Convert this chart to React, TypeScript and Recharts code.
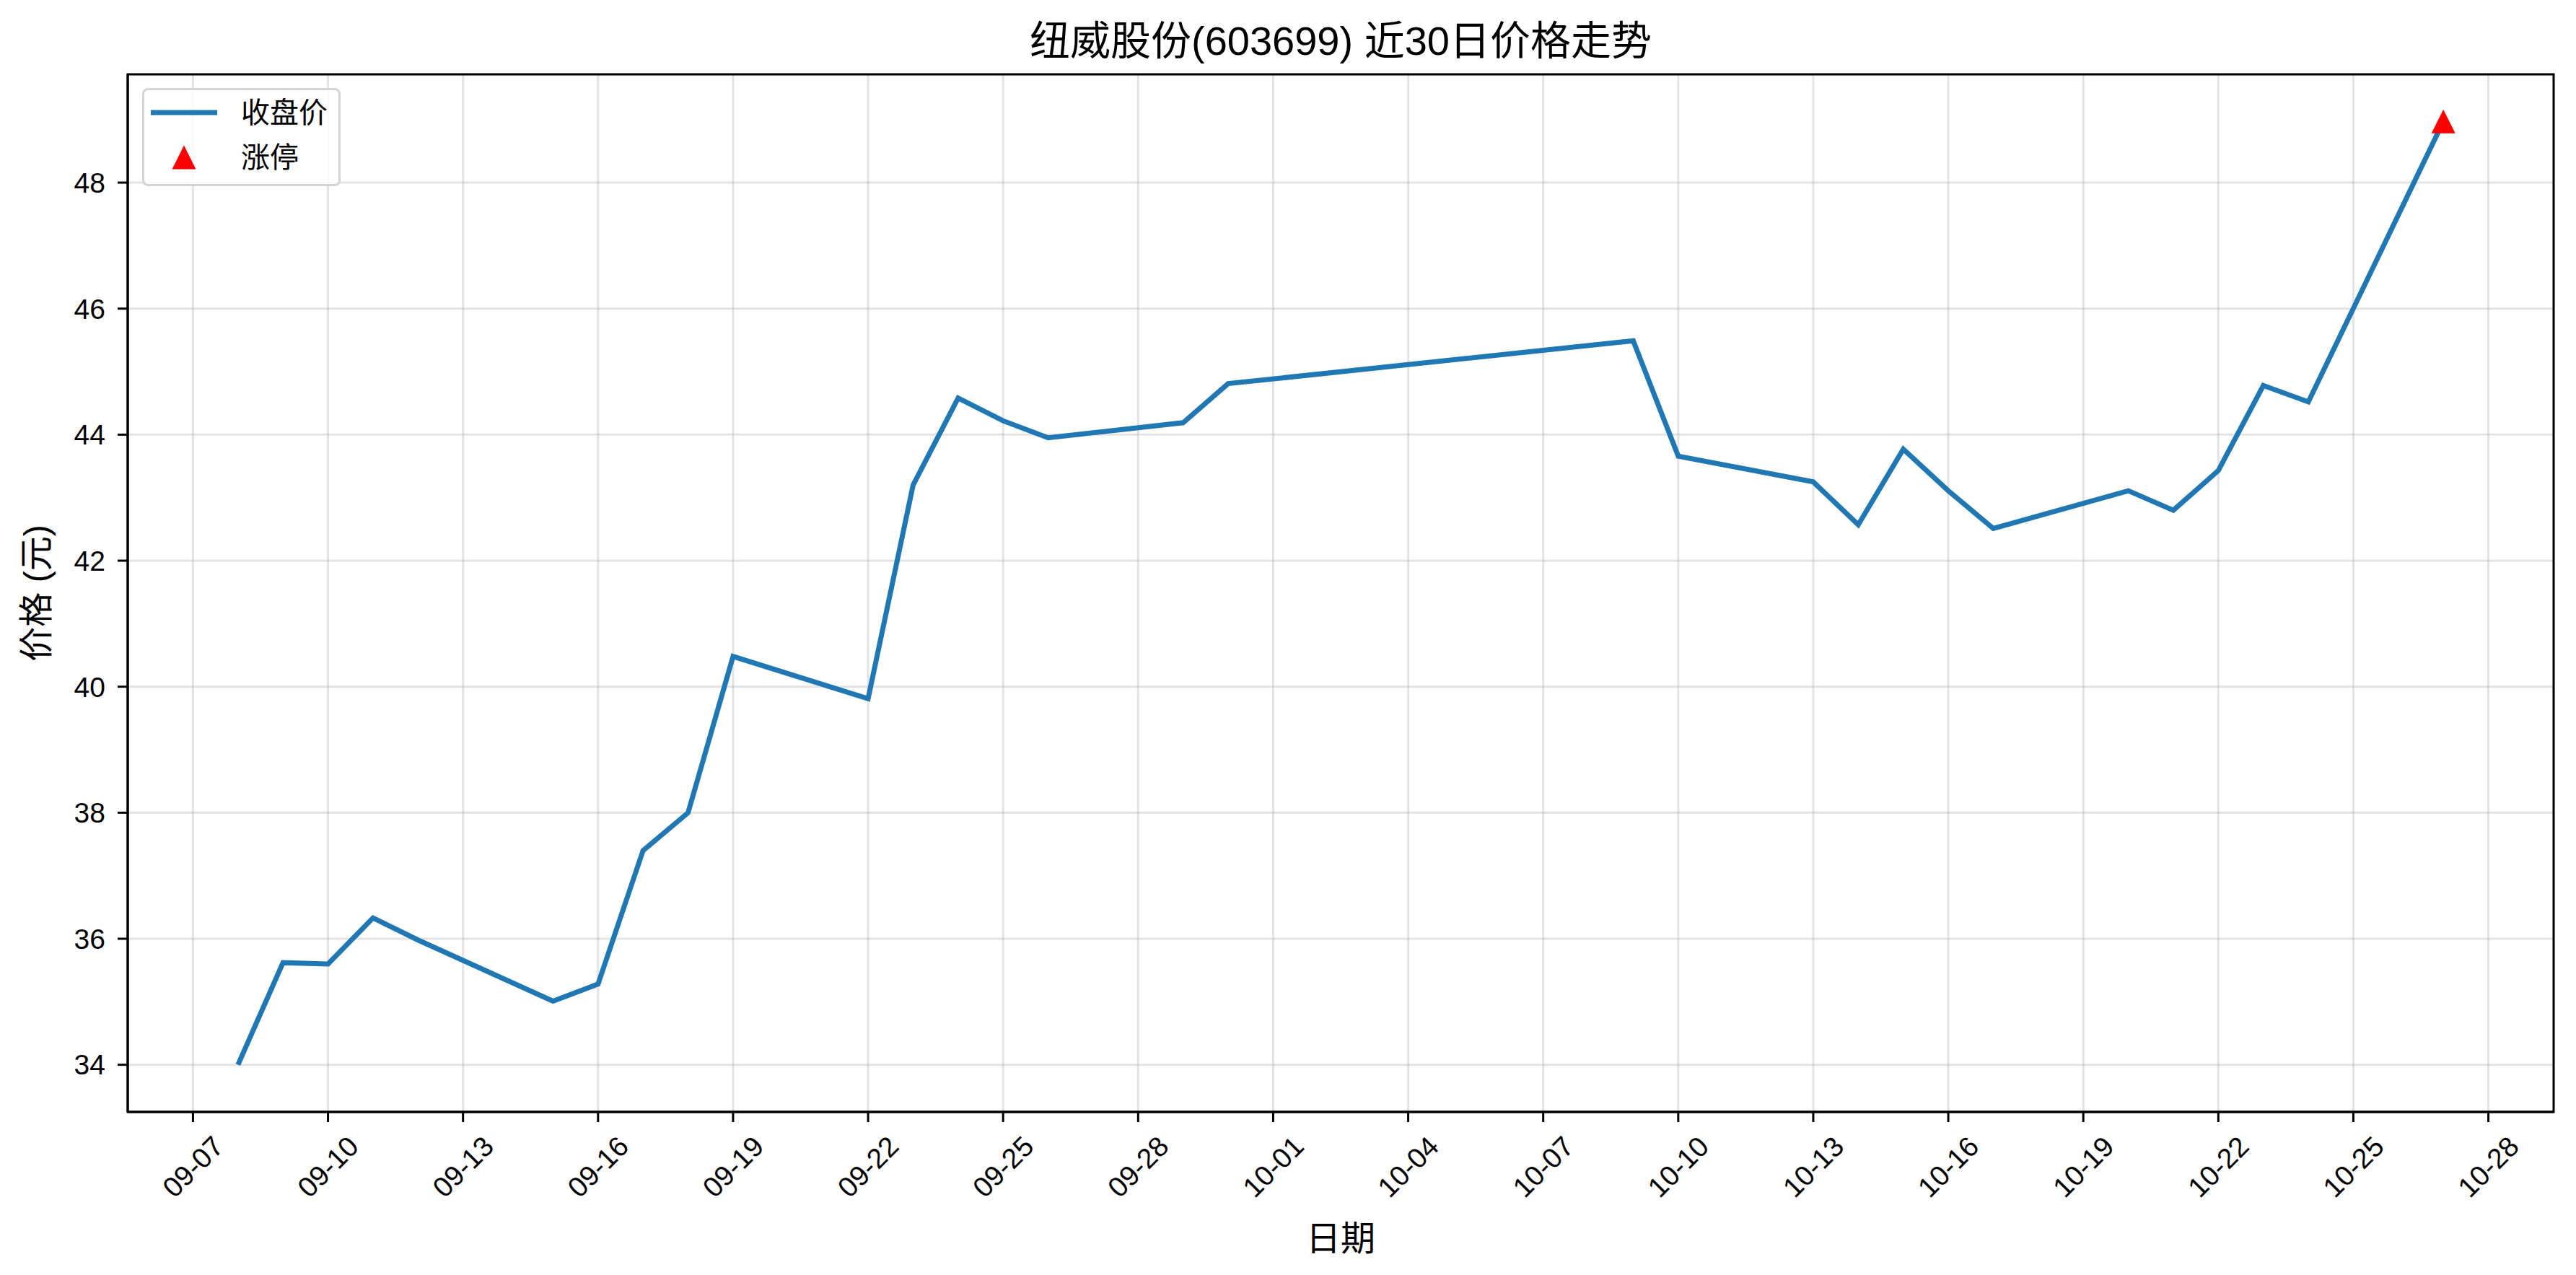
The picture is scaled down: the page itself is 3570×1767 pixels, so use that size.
import React from 'react';
import {
  ComposedChart,
  Line,
  Scatter,
  XAxis,
  YAxis,
  CartesianGrid,
  Legend,
  ReferenceArea,
  Label,
} from 'recharts';

// 纽威股份 近30个交易日收盘价
const tradeDates = [
  '09-08', '09-09', '09-10', '09-11', '09-12', '09-15', '09-16', '09-17', '09-18', '09-19',
  '09-22', '09-23', '09-24', '09-25', '09-26', '09-29', '09-30', '10-09', '10-10', '10-13',
  '10-14', '10-15', '10-16', '10-17', '10-20', '10-21', '10-22', '10-23', '10-24', '10-27',
];
const closePrices = [
  34.0, 35.62, 35.6, 36.33, 35.98, 35.01, 35.28, 37.4, 38.0, 40.48,
  39.81, 43.2, 44.58, 44.22, 43.95, 44.19, 44.81, 45.49, 43.66, 43.25,
  42.57, 43.77, 43.11, 42.51, 43.11, 42.8, 43.43, 44.78, 44.52, 48.97,
];

// 涨停
const limitUpDates = ['10-27'];
const limitUpPrices = [48.97];

const xTickLabels = [
  '09-07', '09-10', '09-13', '09-16', '09-19', '09-22', '09-25', '09-28', '10-01',
  '10-04', '10-07', '10-10', '10-13', '10-16', '10-19', '10-22', '10-25', '10-28',
];
const yTicks = [34, 36, 38, 40, 42, 44, 46, 48];

const legendItems = [
  { label: '收盘价', kind: 'line' },
  { label: '涨停', kind: 'triangle' },
];

const YEAR = 2025;
const BLUE = '#1f77b4';
const FONT = '"Liberation Sans", Arial, "Noto Sans CJK SC", sans-serif';

const toDay = (md: string) => {
  const [m, d] = md.split('-').map(Number);
  return Date.UTC(YEAR, m - 1, d) / 86400000;
};
const fmtDay = (v: number) => {
  const dt = new Date(v * 86400000);
  const m = String(dt.getUTCMonth() + 1).padStart(2, '0');
  const d = String(dt.getUTCDate()).padStart(2, '0');
  return `${m}-${d}`;
};

const lineData = tradeDates.map((d, i) => ({ x: toDay(d), price: closePrices[i] }));
const limitData = limitUpDates.map((d, i) => ({ x: toDay(d), price: limitUpPrices[i] }));

// matplotlib 默认 5% 边距
const xFirst = lineData[0].x;
const xLast = lineData[lineData.length - 1].x;
const xPad = (xLast - xFirst) * 0.05;
const xDomain = [xFirst - xPad, xLast + xPad];
const allPrices = [...closePrices, ...limitUpPrices];
const yLo = Math.min(...allPrices);
const yHi = Math.max(...allPrices);
const yPad = (yHi - yLo) * 0.05;
const yDomain = [yLo - yPad, yHi + yPad];

const XTick = (props: any) => {
  const { x, y, payload } = props;
  const cy = y + 62;
  return (
    <text
      x={x}
      y={cy}
      transform={`rotate(-45 ${x} ${cy})`}
      textAnchor="middle"
      dominantBaseline="central"
      fontSize={39}
      fontFamily={FONT}
      fill="#000"
    >
      {fmtDay(payload.value)}
    </text>
  );
};

const Triangle = (props: any) => {
  const { cx, cy } = props;
  if (cx == null || cy == null) return null;
  const h = 16.5;
  return <polygon points={`${cx},${cy - h} ${cx - h},${cy + h} ${cx + h},${cy + h}`} fill="#ff0000" />;
};

const YLabel = (props: any) => {
  const vb = props.viewBox || {};
  const cy = (vb.y || 0) + (vb.height || 0) / 2;
  const cx = 50;
  return (
    <text
      x={cx}
      y={cy}
      transform={`rotate(-90 ${cx} ${cy})`}
      textAnchor="middle"
      dominantBaseline="central"
      fontSize={48}
      fontFamily={FONT}
      fill="#000"
    >
      价格 (元)
    </text>
  );
};

const LegendBox = () => (
  <div
    style={{
      border: '3px solid #d4d4d4',
      borderRadius: 8,
      background: 'rgba(255,255,255,0.8)',
      paddingTop: 0,
      paddingBottom: 6,
      fontFamily: FONT,
      fontSize: 40,
      color: '#000',
      boxSizing: 'border-box',
    }}
  >
    {legendItems.map((it) => (
      <div key={it.label} style={{ display: 'flex', alignItems: 'center', height: 62 }}>
        <svg width={92} height={40} style={{ marginLeft: 9, marginRight: 33 }}>
          {it.kind === 'line' ? (
            <line x1={0} x2={92} y1={20} y2={20} stroke={BLUE} strokeWidth={7} />
          ) : (
            <polygon points="46,3.5 29.5,36.5 62.5,36.5" fill="#ff0000" />
          )}
        </svg>
        <span style={{ lineHeight: 1 }}>{it.label}</span>
      </div>
    ))}
  </div>
);

const App: React.FC = () => {
  const W = 3570;
  const H = 1767;
  return (
    <div style={{ position: 'absolute', left: 0, top: 0, width: W, height: H, background: '#fff' }}>
      <div
        style={{
          position: 'absolute',
          left: 177,
          width: 3362,
          top: 29,
          textAlign: 'center',
          fontFamily: FONT,
          fontSize: 56,
          lineHeight: '56px',
          color: '#000',
          zIndex: 2,
        }}
      >
        纽威股份(603699) 近30日价格走势
      </div>
      <ComposedChart width={W} height={H} margin={{ top: 103, right: 31, bottom: 0, left: 0 }}>
        <CartesianGrid stroke="#b0b0b0" strokeOpacity={0.35} strokeWidth={3} />
        <XAxis
          dataKey="x"
          type="number"
          domain={xDomain}
          allowDataOverflow
          ticks={xTickLabels.map(toDay)}
          interval={0}
          height={226}
          tick={<XTick />}
          tickSize={14}
          tickMargin={0}
          tickLine={{ stroke: '#000', strokeWidth: 3 }}
          axisLine={{ stroke: '#000', strokeWidth: 3 }}
        >
          <Label value="日期" position="insideBottom" offset={34} fontSize={48} fontFamily={FONT} fill="#000" />
        </XAxis>
        <YAxis
          type="number"
          domain={yDomain}
          allowDataOverflow
          ticks={yTicks}
          width={177}
          tickSize={14}
          tickMargin={17}
          tick={{ fontSize: 39, fontFamily: FONT, fill: '#000' }}
          tickLine={{ stroke: '#000', strokeWidth: 3 }}
          axisLine={{ stroke: '#000', strokeWidth: 3 }}
        >
          <Label content={<YLabel />} />
        </YAxis>
        <ReferenceArea
          x1={xDomain[0]}
          x2={xDomain[1]}
          y1={yDomain[0]}
          y2={yDomain[1]}
          fill="none"
          fillOpacity={0}
          stroke="#000"
          strokeWidth={3}
          ifOverflow="visible"
        />
        <Line
          data={lineData}
          dataKey="price"
          type="linear"
          stroke={BLUE}
          strokeWidth={7}
          dot={false}
          activeDot={false}
          isAnimationActive={false}
        />
        <Scatter data={limitData} dataKey="price" shape={<Triangle />} isAnimationActive={false} />
        <Legend
          layout="vertical"
          align="center"
          verticalAlign="middle"
          content={<LegendBox />}
          wrapperStyle={{ left: 197, top: 122, width: 275, height: 'auto' }}
        />
      </ComposedChart>
    </div>
  );
};

export default App;
